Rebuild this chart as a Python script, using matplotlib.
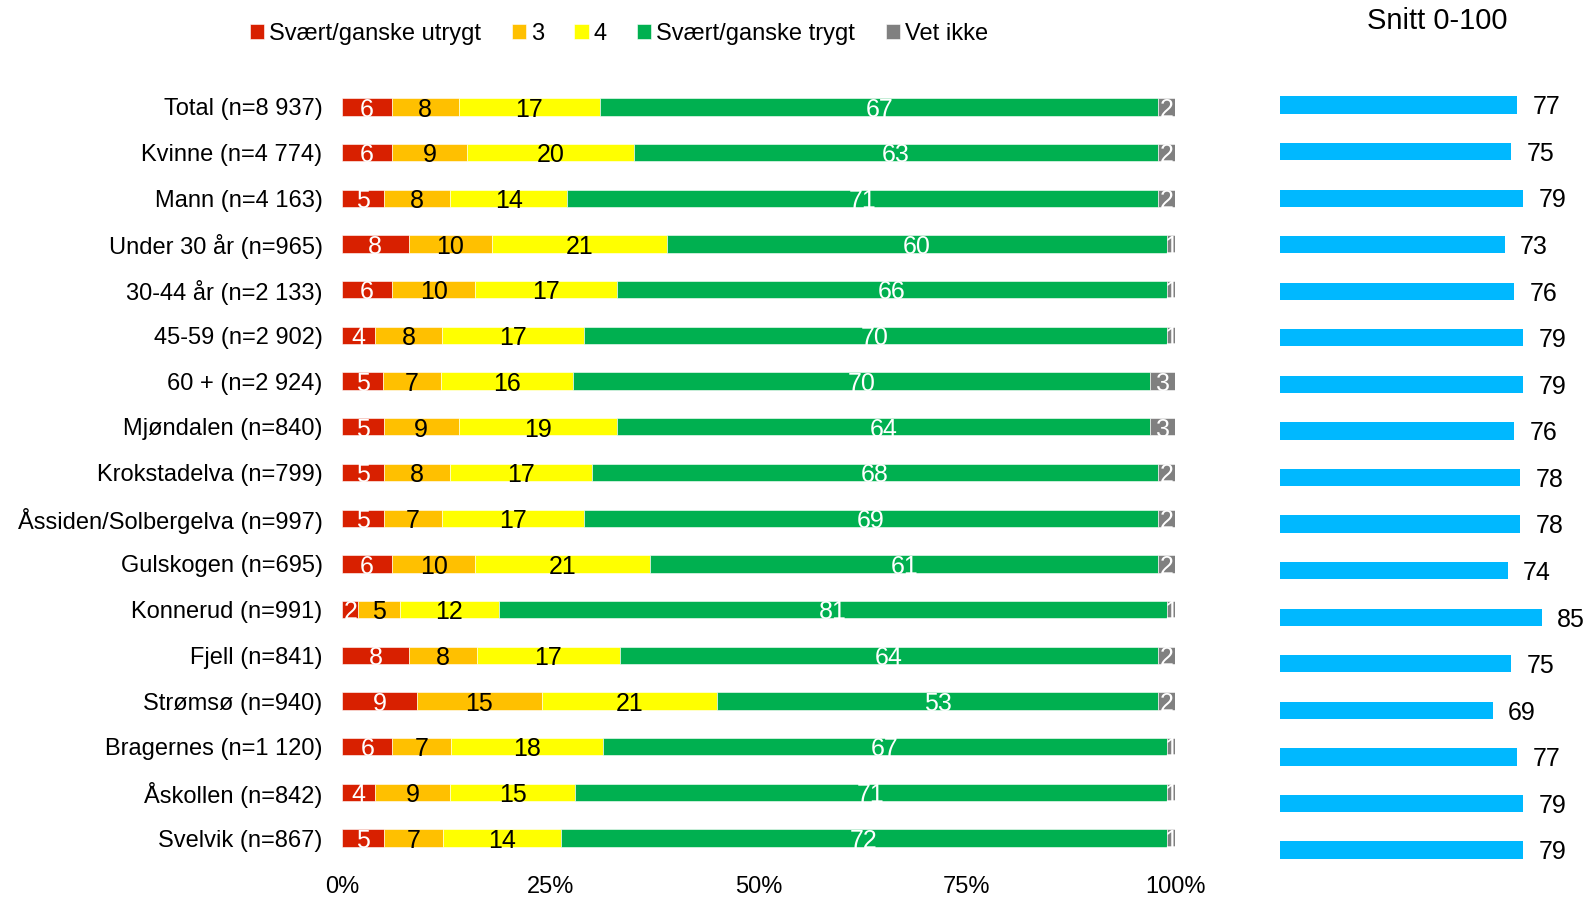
"""Trygghet i nabolaget – stablede stolper og snitt 0-100."""

import matplotlib

matplotlib.use("Agg")
import matplotlib.pyplot as plt
import numpy as np
from matplotlib.font_manager import findfont, FontProperties

plt.rcParams["font.family"] = ["Liberation Sans", "DejaVu Sans"]

categories = [
    "Total (n=8 937)",
    "Kvinne (n=4 774)",
    "Mann (n=4 163)",
    "Under 30 år (n=965)",
    "30-44 år (n=2 133)",
    "45-59 (n=2 902)",
    "60 + (n=2 924)",
    "Mjøndalen (n=840)",
    "Krokstadelva (n=799)",
    "Åssiden/Solbergelva (n=997)",
    "Gulskogen (n=695)",
    "Konnerud (n=991)",
    "Fjell (n=841)",
    "Strømsø (n=940)",
    "Bragernes (n=1 120)",
    "Åskollen (n=842)",
    "Svelvik (n=867)",
]
utrygt = [6, 6, 5, 8, 6, 4, 5, 5, 5, 5, 6, 2, 8, 9, 6, 4, 5]
tre = [8, 9, 8, 10, 10, 8, 7, 9, 8, 7, 10, 5, 8, 15, 7, 9, 7]
fire = [17, 20, 14, 21, 17, 17, 16, 19, 17, 17, 21, 12, 17, 21, 18, 15, 14]
trygt = [67, 63, 71, 60, 66, 70, 70, 64, 68, 69, 61, 81, 64, 53, 67, 71, 72]
vet_ikke = [2, 2, 2, 1, 1, 1, 3, 3, 2, 2, 2, 1, 2, 2, 1, 1, 1]
snitt = [77, 75, 79, 73, 76, 79, 79, 76, 78, 78, 74, 85, 75, 69, 77, 79, 79]

series = ["Svært/ganske utrygt", "3", "4", "Svært/ganske trygt", "Vet ikke"]
colors = ["#D82000", "#FFC000", "#FFFF00", "#00B050", "#808080"]
text_colors = ["white", "black", "black", "white", "white"]

narrow = "Liberation Sans Narrow"
try:
    findfont(FontProperties(family=narrow), fallback_to_default=False)
except ValueError:
    narrow = "Liberation Sans"

data = np.array([utrygt, tre, fire, trygt, vet_ikke], dtype=float)
shares = data / data.sum(axis=0) * 100
y = np.arange(len(categories))

fig = plt.figure(figsize=(15.87, 9.01), dpi=100)

# Left: 100 % stacked bars
ax = fig.add_axes([0.2155, 0.0444, 0.5249, 0.8624])
left = np.zeros(len(categories))
for i, name in enumerate(series):
    ax.barh(y, shares[i], left=left, height=0.38, color=colors[i], label=name,
            edgecolor="white", linewidth=0.4)
    for yi, (lv, w, v) in enumerate(zip(left, shares[i], data[i])):
        ax.text(lv + w / 2, yi + 0.06, f"{int(v)}", ha="center", va="center",
                color=text_colors[i], fontsize=18, family=narrow)
    left += shares[i]

ax.set_xlim(0, 100)
ax.set_ylim(len(categories) - 0.5, -0.5)
ax.set_yticks(y)
ax.set_yticklabels(categories, fontsize=17)
ax.set_xticks([0, 25, 50, 75, 100])
ax.set_xticklabels(["0%", "25%", "50%", "75%", "100%"], fontsize=17)
ax.tick_params(length=0)
ax.tick_params(axis="x", pad=11)
ax.tick_params(axis="y", pad=14)
for s in ax.spines.values():
    s.set_visible(False)

fig.legend(loc="center", bbox_to_anchor=(0.39, 0.962), ncol=5, frameon=False,
           fontsize=17, handlelength=0.6, handleheight=0.6, handletextpad=0.2,
           columnspacing=1.3)

# Right: average score 0-100
ax2 = fig.add_axes([0.8066, 0.0307, 0.194, 0.8786])
ax2.barh(y, snitt, height=0.37, color="#00B8FF")
for yi, v in zip(y, snitt):
    ax2.annotate(f"{v}", (v, yi + 0.05), xytext=(11, 0),
                 textcoords="offset points", ha="left", va="center",
                 fontsize=18, annotation_clip=False)
ax2.set_xlim(0, 100)
ax2.set_ylim(len(categories) - 0.5, -0.5)
ax2.axis("off")
fig.text(0.9055, 0.977, "Snitt 0-100", ha="center", va="center", fontsize=21)

plt.savefig("out.png", dpi=100)
plt.close()
